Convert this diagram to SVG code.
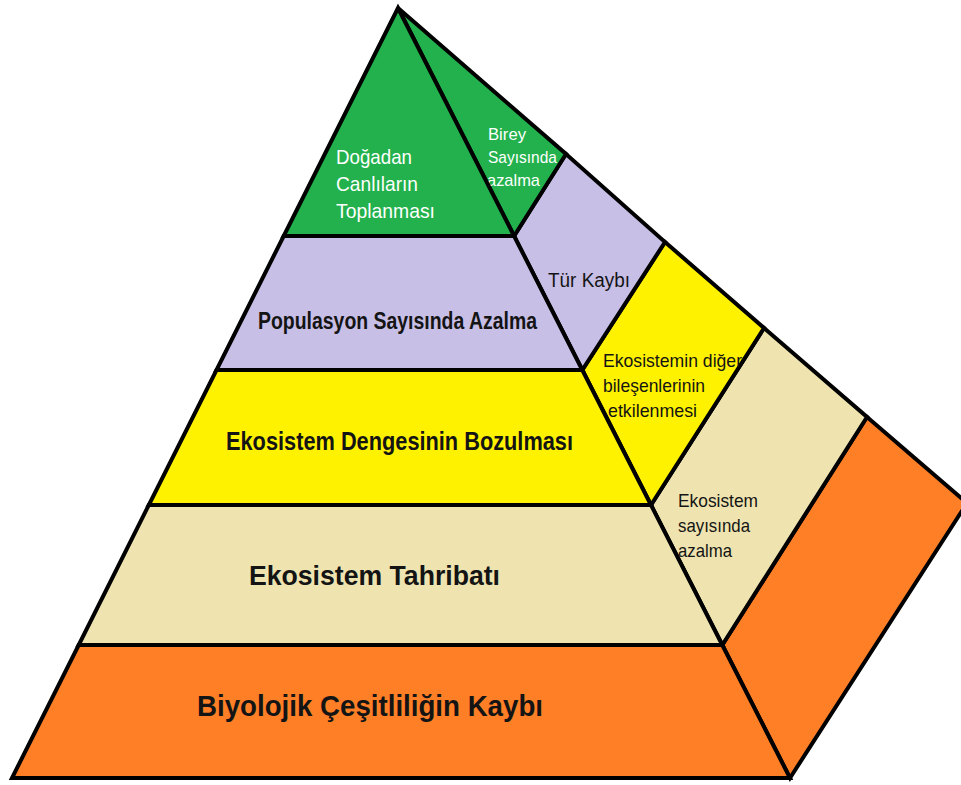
<svg xmlns="http://www.w3.org/2000/svg" width="961" height="785" viewBox="0 0 961 785">
<style>
.band{stroke:#000;stroke-width:4;stroke-linejoin:miter}
.green{fill:#22B14C}.purple{fill:#C8BFE7}.yellow{fill:#FFF200}.beige{fill:#EFE4B0}.orange{fill:#FF7F27}
text{font-family:"Liberation Sans Narrow","Liberation Sans",Arial,sans-serif;fill:#141414}
.big{font-weight:bold}
.w{fill:#fff}
</style>
<rect width="961" height="785" fill="#fff"/>
<g id="side-orange"><polygon class="band orange" points="722.3,645 867,417 967,503 790,778"/></g>
<g id="side-beige"><polygon class="band beige" points="651,505 764,328 867,417 722.3,645"/>
<text font-size="19" textLength="80" lengthAdjust="spacingAndGlyphs" x="678" y="507">Ekosistem</text>
<text font-size="19" textLength="72" lengthAdjust="spacingAndGlyphs" x="678" y="532">sayısında</text>
<text font-size="19" textLength="54" lengthAdjust="spacingAndGlyphs" x="678" y="557">azalma</text></g>
<g id="side-yellow"><polygon class="band yellow" points="582.3,370 665,242 764,328 651,505"/>
<text font-size="19" textLength="139" lengthAdjust="spacingAndGlyphs" x="603" y="367">Ekosistemin diğer</text>
<text font-size="19" textLength="102" lengthAdjust="spacingAndGlyphs" x="603" y="392">bileşenlerinin</text>
<text font-size="19" textLength="89" lengthAdjust="spacingAndGlyphs" x="608" y="417">etkilenmesi</text></g>
<g id="side-purple"><polygon class="band purple" points="514.1,236 566,154 665,242 582.3,370"/>
<text font-size="20" textLength="82" lengthAdjust="spacingAndGlyphs" x="548" y="287">Tür Kaybı</text></g>
<g id="side-green"><polygon class="band green" points="398,8 566,154 514.1,236"/>
<text class="w" font-size="17" textLength="38" lengthAdjust="spacingAndGlyphs" x="488" y="140">Birey</text>
<text class="w" font-size="17" textLength="69" lengthAdjust="spacingAndGlyphs" x="488" y="163">Sayısında</text>
<text class="w" font-size="17" textLength="53" lengthAdjust="spacingAndGlyphs" x="487" y="186">azalma</text></g>
<g id="front-orange"><polygon class="band orange" points="78.7,645 722.3,645 790,778 12,778"/>
<text class="big" font-size="30" textLength="346" lengthAdjust="spacingAndGlyphs" x="197" y="716">Biyolojik Çeşitliliğin Kaybı</text></g>
<g id="front-beige"><polygon class="band beige" points="148.8,505 651,505 722.3,645 78.7,645"/>
<text class="big" font-size="28" textLength="251" lengthAdjust="spacingAndGlyphs" x="249" y="585">Ekosistem Tahribatı</text></g>
<g id="front-yellow"><polygon class="band yellow" points="216.5,370 582.3,370 651,505 148.8,505"/>
<text class="big" font-size="25" textLength="347" lengthAdjust="spacingAndGlyphs" x="226" y="450">Ekosistem Dengesinin Bozulması</text></g>
<g id="front-purple"><polygon class="band purple" points="283.7,236 514.1,236 582.3,370 216.5,370"/>
<text class="big" font-size="23" textLength="279" lengthAdjust="spacingAndGlyphs" x="258" y="329">Populasyon Sayısında Azalma</text></g>
<g id="front-green"><polygon class="band green" points="398,8 514.1,236 283.7,236"/>
<text class="w" font-size="21" textLength="76" lengthAdjust="spacingAndGlyphs" x="336" y="164">Doğadan</text>
<text class="w" font-size="21" textLength="82" lengthAdjust="spacingAndGlyphs" x="336" y="191">Canlıların</text>
<text class="w" font-size="21" textLength="99" lengthAdjust="spacingAndGlyphs" x="336" y="218">Toplanması</text></g>
<g id="connectors"></g>
</svg>
